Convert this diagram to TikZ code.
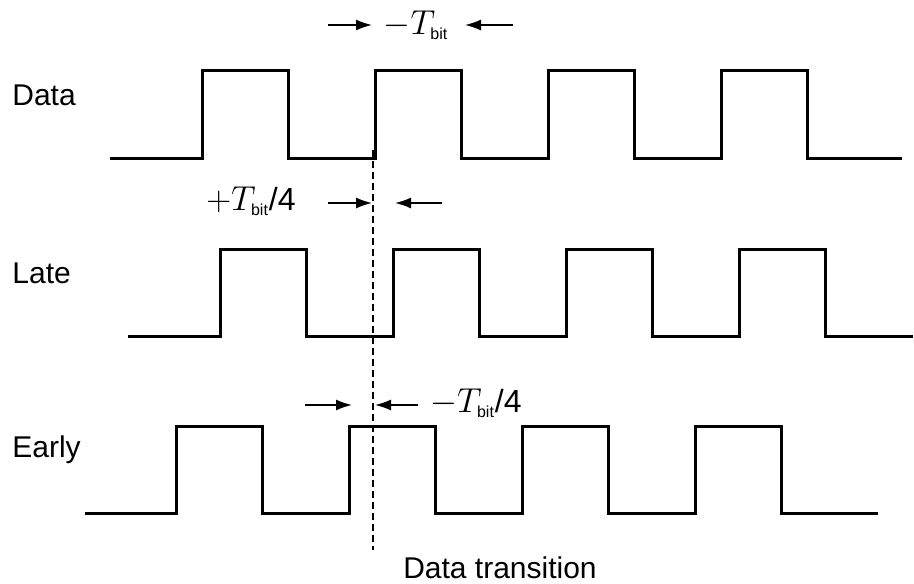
\documentclass[tikz,border=0pt]{standalone}
\usepackage{fontspec}
\setmainfont{Liberation Sans}
\usetikzlibrary{arrows.meta}
\newcommand{\Tbit}{T_{\mbox{\fontsize{8}{8}\selectfont bit}}}

\begin{document}
\begin{tikzpicture}[x=0.5pt,y=-0.5pt,
  wave/.style={line width=1.5pt,line join=miter},
  lbl/.style={font=\fontsize{15}{18}\selectfont,inner sep=0pt},
  gap/.style={line width=0.8pt,-{Latex[length=8pt,width=5.5pt]}}]
\useasboundingbox (0,0) rectangle (914,583);
% three clock waveforms
\foreach \name/\y/\x/\r/\xend in {Data/158/110/202/902,Late/336/128/220/913,Early/513/85/176/878}{
  \draw[wave] (\x,\y) foreach \k in {0,...,3}{ -- (\r+173*\k,\y) -- ++(0,-87) -- ++(86.5,0) -- ++(0,87) } -- (\xend,\y);
  \node[lbl,anchor=west] (\name) at (12,\y-63) {\name};
}
\coordinate (trtop) at (373,150); \coordinate (trbot) at (373,550);
\draw[line width=0.8pt,dash pattern=on 3.5pt off 2pt] (trtop)--(trbot);
\node[lbl] (trans) at (500,568) {Data transition};
% offsets
\node[lbl] (tb) at (416,25) {\fontsize{16}{18}\selectfont$-\Tbit$};
\coordinate (a1) at (328,25); \coordinate (a2) at (372,25); \coordinate (a3) at (513,25); \coordinate (a4) at (465,25);
\node[lbl] (late) at (251,201) {\fontsize{16}{18}\selectfont$+\Tbit$/4};
\coordinate (b1) at (328,203); \coordinate (b2) at (372,203); \coordinate (b3) at (442,203); \coordinate (b4) at (395,203);
\node[lbl] (early) at (476,403) {\fontsize{16}{18}\selectfont$-\Tbit$/4};
\coordinate (c1) at (305,405); \coordinate (c2) at (352,405); \coordinate (c3) at (418,405); \coordinate (c4) at (375,405);
\foreach \p/\q in {a1/a2,a3/a4,b1/b2,b3/b4,c1/c2,c3/c4}{\draw[gap] (\p)--(\q);}
\end{tikzpicture}
\end{document}
